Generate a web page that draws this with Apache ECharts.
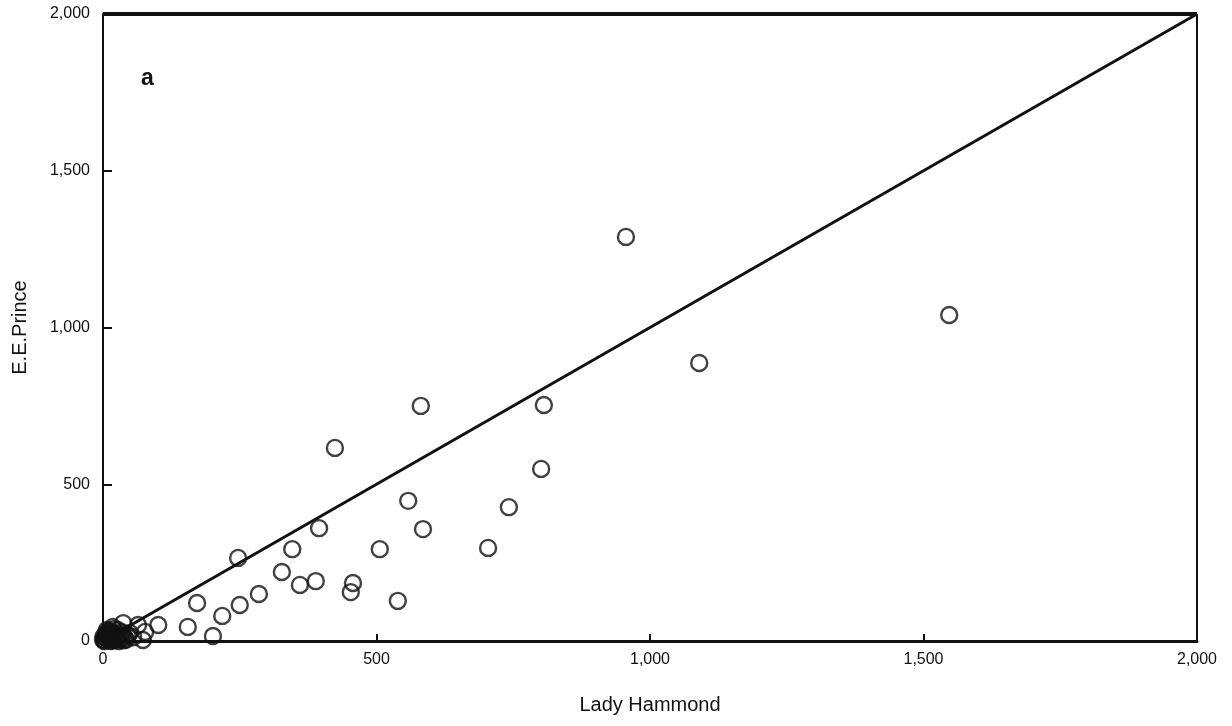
<!DOCTYPE html>
<html>
<head>
<meta charset="utf-8">
<script src="https://cdn.jsdelivr.net/npm/echarts@6/dist/echarts.min.js"></script>
<style>
  html, body { margin: 0; padding: 0; background: #fff; }
  #chart { width: 1232px; height: 726px; }
</style>
</head>
<body>
<div id="chart"></div>
<script>
// Counts per sample: Lady Hammond (x) vs E.E.Prince (y)
const ladyHammond = [956, 1547, 1090, 581, 806, 424, 801, 558, 742, 585, 395, 346, 506, 704,
  247, 327, 389, 360, 457, 453, 539, 285, 250, 172, 218, 155, 101, 201, 73, 77, 64, 37, 49,
  4, 9, 16, 22, 27, 13, 2, 31, 40, 7, 18, 11, 25, 34, 45, 55, 6,
  0, 3, 8, 12, 15, 20, 24, 28, 33, 36, 42, 5, 10, 19, 14, 1, 6, 17, 29, 38];
const eePrince = [1289, 1040, 887, 750, 753, 616, 549, 447, 427, 357, 360, 293, 293, 297,
  265, 220, 191, 179, 185, 156, 128, 150, 115, 121, 80, 45, 51, 16, 3, 29, 51, 57, 26,
  10, 19, 29, 13, 35, 3, 0, 16, 10, 35, 45, 25, 5, 28, 20, 12, 22,
  5, 2, 8, 15, 6, 22, 4, 12, 8, 20, 4, 25, 32, 38, 0, 14, 12, 2, 0, 2];

// 1:1 reference line
const equalityLine = [[0, 0], [2000, 2000]];

const axisTicks = [0, 500, 1000, 1500, 2000];
const panelLetter = 'a';

const points = ladyHammond.map((x, i) => [x, eePrince[i]]);
const fmt = v => v.toLocaleString('en-US');
const font = 'Liberation Sans, Arial, sans-serif';

const chart = echarts.init(document.getElementById('chart'));
chart.setOption({
  animation: false,
  backgroundColor: '#fff',
  grid: { left: 103, right: 35, top: 14, bottom: 85, show: false },
  title: {
    text: panelLetter,
    left: 136, top: 62,
    textStyle: { fontFamily: font, fontSize: 23, fontWeight: 'bold', color: '#111' }
  },
  xAxis: {
    type: 'value', min: axisTicks[0], max: axisTicks[axisTicks.length - 1], interval: 500,
    name: 'Lady Hammond', nameLocation: 'middle', nameGap: 54,
    nameTextStyle: { fontFamily: font, fontSize: 20, color: '#111' },
    axisLine: { show: true, onZero: false, lineStyle: { color: '#111', width: 3 } },
    axisTick: { show: true, inside: true, length: 7, lineStyle: { color: '#111', width: 2 } },
    axisLabel: { formatter: fmt, margin: 11, fontFamily: font, fontSize: 16, color: '#111' },
    splitLine: { show: false }
  },
  yAxis: {
    type: 'value', min: axisTicks[0], max: axisTicks[axisTicks.length - 1], interval: 500,
    name: 'E.E.Prince', nameLocation: 'middle', nameGap: 73,
    nameTextStyle: { fontFamily: font, fontSize: 20, color: '#111' },
    axisLine: { show: true, onZero: false, lineStyle: { color: '#111', width: 2 } },
    axisTick: { show: true, inside: true, length: 9, lineStyle: { color: '#111', width: 2 } },
    axisLabel: { formatter: fmt, margin: 13, fontFamily: font, fontSize: 16, color: '#111' },
    splitLine: { show: false }
  },
  series: [
    {
      type: 'line', data: equalityLine, symbol: 'none', silent: true,
      lineStyle: { color: '#111', width: 3 }, z: 2,
      markLine: {
        silent: true, symbol: 'none', label: { show: false },
        lineStyle: { color: '#111', type: 'solid' },
        data: [
          [{ coord: [0, 2000], lineStyle: { width: 4 } }, { coord: [2000, 2000] }],
          [{ coord: [2000, 0], lineStyle: { width: 2 } }, { coord: [2000, 2000] }]
        ]
      }
    },
    {
      type: 'scatter', data: points, symbol: 'circle', symbolSize: 16,
      itemStyle: { color: 'rgba(255,255,255,0)', borderColor: '#111', borderWidth: 2.4 },
      z: 3
    }
  ]
});
</script>
</body>
</html>
